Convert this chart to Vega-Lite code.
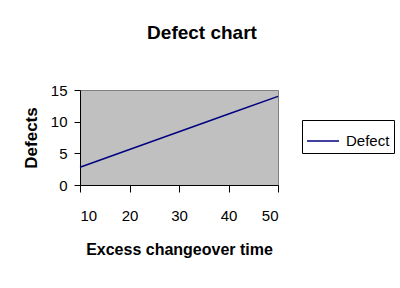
{
  "$schema": "https://vega.github.io/schema/vega-lite/v6.json",
  "width": 198,
  "height": 95,
  "autosize": {"type": "none"},
  "padding": {"left": 80, "top": 90, "right": 122, "bottom": 103},
  "background": "white",
  "title": {
    "text": "Defect chart",
    "font": "Liberation Sans",
    "fontSize": 19,
    "fontWeight": "bold",
    "color": "black",
    "anchor": "middle",
    "frame": "group",
    "baseline": "alphabetic",
    "offset": 25,
    "dx": 23
  },
  "data": {
    "values": [
      {"time": 10, "defects": 2.8, "series": "Defect"},
      {"time": 20, "defects": 5.6, "series": "Defect"},
      {"time": 30, "defects": 8.4, "series": "Defect"},
      {"time": 40, "defects": 11.2, "series": "Defect"},
      {"time": 50, "defects": 14.0, "series": "Defect"}
    ]
  },
  "mark": {"type": "line", "strokeWidth": 1.5},
  "encoding": {
    "x": {
      "field": "time",
      "type": "quantitative",
      "scale": {"domain": [10, 50], "nice": false, "zero": false},
      "axis": {
        "title": "Excess changeover time",
        "values": [10, 20, 30, 40, 50],
        "grid": false,
        "domainColor": "black",
        "tickColor": "black",
        "tickSize": 7,
        "labelFont": "Liberation Sans",
        "labelFontSize": 15,
        "labelColor": "black",
        "labelBaseline": "alphabetic",
        "labelPadding": 28,
        "titleFont": "Liberation Sans",
        "titleFontSize": 16,
        "titleFontWeight": "bold",
        "titleColor": "black",
        "titleBaseline": "alphabetic",
        "titlePadding": 31
      }
    },
    "y": {
      "field": "defects",
      "type": "quantitative",
      "scale": {"domain": [0, 15], "nice": false},
      "axis": {
        "title": "Defects",
        "values": [0, 5, 10, 15],
        "grid": false,
        "domainColor": "black",
        "tickColor": "black",
        "tickSize": 6,
        "labelFont": "Liberation Sans",
        "labelFontSize": 15,
        "labelColor": "black",
        "labelPadding": 7,
        "titleFont": "Liberation Sans",
        "titleFontSize": 17,
        "titleFontWeight": "bold",
        "titleColor": "black",
        "titlePadding": 10
      }
    },
    "color": {
      "field": "series",
      "type": "nominal",
      "scale": {"range": ["#000080"]},
      "legend": {
        "title": null,
        "orient": "none",
        "legendX": 222,
        "legendY": 30,
        "strokeColor": "black",
        "padding": 4,
        "symbolType": "stroke",
        "symbolSize": 1024,
        "symbolStrokeWidth": 1.5,
        "labelFont": "Liberation Sans",
        "labelFontSize": 15,
        "labelColor": "black",
        "labelOffset": 6
      }
    }
  },
  "config": {
    "view": {"fill": "#C0C0C0", "stroke": "#808080"}
  }
}
